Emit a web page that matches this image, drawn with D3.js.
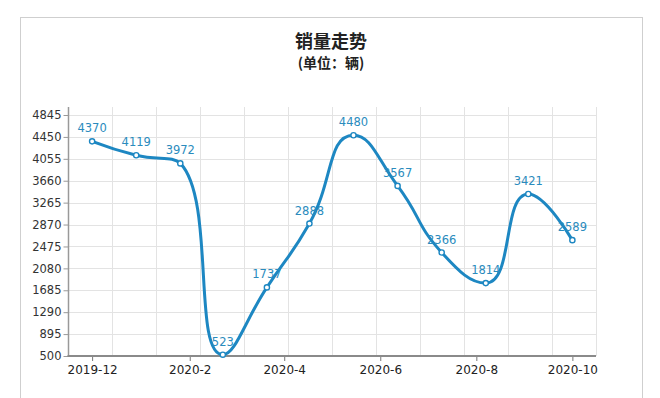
<!DOCTYPE html>
<html>
<head>
<meta charset="utf-8">
<script src="https://cdn.jsdelivr.net/npm/d3@7"></script>
<style>
  html, body { margin: 0; padding: 0; background: #fff; }
  svg { display: block; }
</style>
</head>
<body>
<div id="chart"></div>
<script>
// Sales trend data
const pointDates = ['2019-12-01', '2019-12-29', '2020-01-26', '2020-02-22', '2020-03-21', '2020-04-17',
                    '2020-05-15', '2020-06-12', '2020-07-10', '2020-08-07', '2020-09-03', '2020-10-01'];
const sales = [4370, 4119, 3972, 523, 1737, 2888, 4480, 3567, 2366, 1814, 3421, 2589];
const xTickLabels = ['2019-12', '2020-2', '2020-4', '2020-6', '2020-8', '2020-10'];
const yTicks = [500, 895, 1290, 1685, 2080, 2475, 2870, 3265, 3660, 4055, 4450, 4845];
const xDomain = ['2019-11-16', '2020-10-16'];
const titleText = '销量走势';
const subtitleText = '(单位：辆)';

const W = 660, H = 398;
const plot = { left: 68.5, right: 596, top: 107, bottom: 356 };
const lineColor = '#1d87c2';
const labelColor = '#2a8bbd';
const latin = '"DejaVu Sans", Verdana, sans-serif';
const cjk = '"Noto Sans CJK SC", "Noto Sans", sans-serif';

const parseDay = d3.timeParse('%Y-%m-%d');
const parseMonth = d3.timeParse('%Y-%m');

const svg = d3.select('#chart').append('svg')
  .attr('width', W)
  .attr('height', H);

// outer panel
svg.append('rect')
  .attr('x', 20.5).attr('y', 17.5)
  .attr('width', 622).attr('height', 420)
  .attr('fill', '#fff')
  .attr('stroke', '#cfcfcf');

// titles
svg.append('text')
  .attr('x', 331).attr('y', 48)
  .attr('text-anchor', 'middle')
  .style('font-family', cjk).style('font-size', '18px').style('font-weight', 'bold')
  .style('fill', '#222')
  .text(titleText);

svg.append('text')
  .attr('x', 331).attr('y', 68)
  .attr('text-anchor', 'middle')
  .style('font-family', cjk).style('font-size', '14px').style('font-weight', 'bold')
  .style('fill', '#222')
  .text(subtitleText);

// scales
const x = d3.scaleTime()
  .domain(xDomain.map(parseDay))
  .range([plot.left, plot.right]);

const y = d3.scaleLinear()
  .domain([d3.min(yTicks), d3.max(yTicks)])
  .range([plot.bottom, 115]);

// vertical split lines are evenly spaced, independent from the month ticks
const split = d3.scaleLinear().domain([0, 12]).range([plot.left, plot.right]);

const grid = svg.append('g').attr('class', 'grid');
grid.selectAll('.hgrid')
  .data(yTicks)
  .enter().append('line')
  .attr('x1', plot.left).attr('x2', plot.right)
  .attr('y1', d => Math.round(y(d)) + 0.5).attr('y2', d => Math.round(y(d)) + 0.5)
  .attr('stroke', '#e3e3e3');

grid.selectAll('.vgrid')
  .data(d3.range(1, 13))
  .enter().append('line')
  .attr('x1', d => Math.round(split(d)) + 0.5).attr('x2', d => Math.round(split(d)) + 0.5)
  .attr('y1', plot.top).attr('y2', plot.bottom)
  .attr('stroke', '#e3e3e3');

// y axis
const yAxis = svg.append('g')
  .attr('transform', `translate(${plot.left},0)`)
  .call(d3.axisLeft(y).tickValues(yTicks).tickFormat(d3.format('d'))
    .tickSize(5).tickPadding(2).tickSizeOuter(0));
yAxis.select('.domain').remove();
yAxis.append('line')
  .attr('x1', 0).attr('x2', 0)
  .attr('y1', plot.top).attr('y2', plot.bottom)
  .attr('stroke', '#999').attr('stroke-width', 1.5);
yAxis.selectAll('.tick line').attr('stroke', '#999');
yAxis.selectAll('.tick text')
  .style('font-family', latin).style('font-size', '11.5px').style('fill', '#333');

// x axis
const xAxis = svg.append('g')
  .attr('transform', `translate(0,${plot.bottom})`)
  .call(d3.axisBottom(x)
    .tickValues(xTickLabels.map(parseMonth))
    .tickFormat(d3.timeFormat('%Y-%-m'))
    .tickSize(5).tickPadding(4).tickSizeOuter(0));
xAxis.select('.domain').remove();
xAxis.append('line')
  .attr('x1', plot.left - 1).attr('x2', plot.right)
  .attr('y1', 0).attr('y2', 0)
  .attr('stroke', '#8a8a8a').attr('stroke-width', 2);
xAxis.selectAll('.tick line').attr('stroke', '#777');
xAxis.selectAll('.tick text')
  .style('font-family', latin).style('font-size', '12px').style('fill', '#222');

// smooth line, control points kept between neighbouring points (no overshoot)
function smoothPath(pts, smooth) {
  const p = d3.path();
  const clamp = (v, a, b) => Math.max(Math.min(a, b), Math.min(v, Math.max(a, b)));
  let c0x, c0y;
  pts.forEach(([px, py], i) => {
    if (i === 0) { p.moveTo(px, py); c0x = px; c0y = py; return; }
    const [ax, ay] = pts[i - 1];
    const next = pts[i + 1];
    let c1x = px, c1y = py, nx0 = px, ny0 = py;
    if (next) {
      const [bx, by] = next;
      const lenPrev = Math.hypot(px - ax, py - ay);
      const lenNext = Math.hypot(bx - px, by - py);
      const ratio = lenNext / (lenNext + lenPrev);
      let vx = bx - ax, vy = by - ay;
      nx0 = clamp(px + vx * smooth * ratio, px, bx);
      ny0 = clamp(py + vy * smooth * ratio, py, by);
      vx = nx0 - px; vy = ny0 - py;
      c1x = clamp(px - vx * lenPrev / lenNext, ax, px);
      c1y = clamp(py - vy * lenPrev / lenNext, ay, py);
      vx = px - c1x; vy = py - c1y;
      nx0 = px + vx * lenNext / lenPrev;
      ny0 = py + vy * lenNext / lenPrev;
    }
    p.bezierCurveTo(c0x, c0y, c1x, c1y, px, py);
    c0x = nx0; c0y = ny0;
  });
  return p.toString();
}

const data = pointDates.map((d, i) => ({ date: parseDay(d), value: sales[i] }));
const pts = data.map(d => [x(d.date), y(d.value)]);

svg.append('path')
  .attr('d', smoothPath(pts, 0.5))
  .attr('fill', 'none')
  .attr('stroke', lineColor)
  .attr('stroke-width', 3)
  .attr('stroke-linejoin', 'round');

svg.selectAll('.dot')
  .data(data)
  .enter().append('circle')
  .attr('class', 'dot')
  .attr('cx', d => x(d.date))
  .attr('cy', d => y(d.value))
  .attr('r', 2.6)
  .attr('fill', '#fff')
  .attr('stroke', lineColor)
  .attr('stroke-width', 1.4);

svg.selectAll('.val')
  .data(data)
  .enter().append('text')
  .attr('class', 'val')
  .attr('x', d => x(d.date))
  .attr('y', d => y(d.value) - 9)
  .attr('text-anchor', 'middle')
  .style('font-family', latin).style('font-size', '11.5px')
  .style('fill', labelColor)
  .text(d => d.value);
</script>
</body>
</html>
